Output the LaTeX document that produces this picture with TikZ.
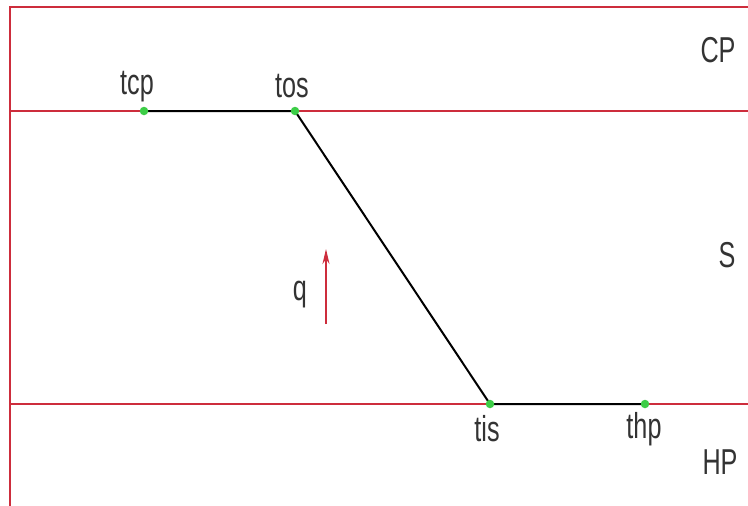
\documentclass[tikz,border=0pt]{standalone}
\usepackage{fontspec}
\usetikzlibrary{arrows.meta}
\setmainfont[FakeStretch=0.7]{Liberation Sans}
\definecolor{bred}{RGB}{205,45,60}
\definecolor{dotgreen}{RGB}{60,205,70}
\begin{document}
\begin{tikzpicture}[x=1pt,y=-1pt,
  border/.style={draw=bred,line width=2pt},
  seg/.style={draw=black,line width=2pt},
  pt/.style={circle,fill=dotgreen,inner sep=0pt,minimum size=8.5pt},
  lbl/.style={font=\fontsize{36}{38}\selectfont,text=black!80,inner sep=0pt,anchor=base},
  flow/.style={draw=bred,line width=2pt,-{Stealth[length=15pt,width=7pt]}}]
\useasboundingbox (0,0) rectangle (748,506);
\fill[white] (0,0) rectangle (748,506);
% frame
\coordinate (tl) at (10,7);
\coordinate (tr) at (748,7);
\coordinate (bl) at (10,506);
\coordinate (l1) at (10,111);
\coordinate (r1) at (748,111);
\coordinate (l2) at (10,404);
\coordinate (r2) at (748,404);
\draw[border] (tr) -- (tl) -- (bl);
\draw[border] (l1) -- (r1);
\draw[border] (l2) -- (r2);
% profile
\coordinate (ptcp) at (144,111);
\coordinate (ptos) at (295,111);
\coordinate (ptis) at (490,404);
\coordinate (pthp) at (645,404);
\draw[seg] (ptcp) -- (ptos) -- (ptis) -- (pthp);
\node[pt] (dtcp) at (ptcp) {};
\node[pt] (dtos) at (ptos) {};
\node[pt] (dtis) at (ptis) {};
\node[pt] (dthp) at (pthp) {};
% labels
\node[lbl] (ltcp) at (137,94) {tcp};
\node[lbl] (ltos) at (292,97) {tos};
\node[lbl] (ltis) at (487,441) {tis};
\node[lbl] (lthp) at (644,438) {thp};
\node[lbl] (lcp) at (718,63) {CP};
\node[lbl] (ls) at (727,267) {S};
\node[lbl] (lhp) at (720,474) {HP};
\node[lbl] (lq) at (300,300) {q};
% heat flux arrow
\coordinate (qa) at (326,324);
\coordinate (qb) at (326,249);
\draw[flow] (qa) -- (qb);
\end{tikzpicture}
\end{document}
